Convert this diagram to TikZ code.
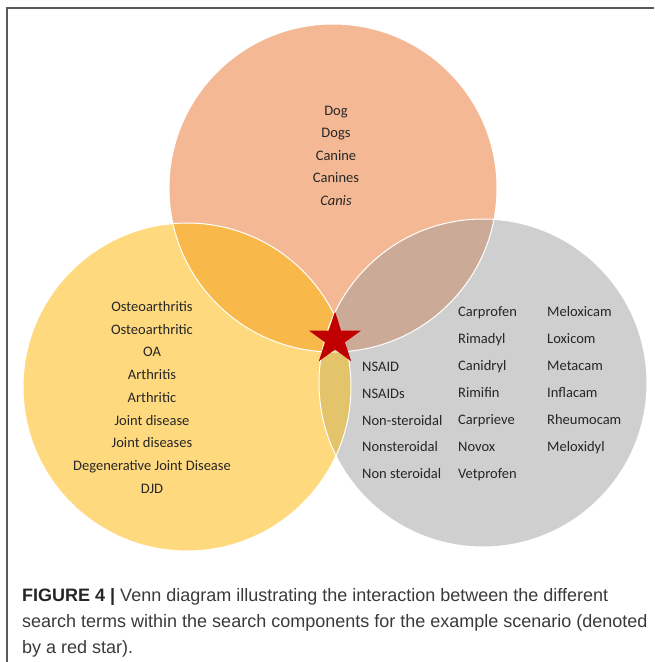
\documentclass[tikz,border=0pt]{standalone}
\usepackage{fontspec}
\setmainfont{Carlito}
\newfontfamily\capfont{Liberation Sans}
\usetikzlibrary{shapes.geometric}
\definecolor{corange}{HTML}{F4B994}
\definecolor{cyellow}{HTML}{FFD97E}
\definecolor{cgray}{HTML}{D0CFCF}
\definecolor{coy}{HTML}{F8B94A}
\definecolor{cog}{HTML}{CCAA98}
\definecolor{cyg}{HTML}{E3C46A}
\definecolor{coyg}{HTML}{DDAA62}
\definecolor{cstar}{HTML}{C00000}
\definecolor{ctext}{HTML}{262626}
\definecolor{ccap}{HTML}{3A3A3A}
\definecolor{cframe}{HTML}{5A5A5A}
\tikzset{
  term/.style={font=\fontsize{14.5}{16}\selectfont, text=ctext, inner sep=0pt, anchor=base},
  termL/.style={term, anchor=base west},
  capline/.style={font=\capfont\fontsize{18}{20}\selectfont, text=ccap, inner sep=0pt, anchor=base west},
  ring/.style={draw=white, line width=1pt}
}
\begin{document}
\begin{tikzpicture}[x=1pt,y=-1pt]
\useasboundingbox (0,0) rectangle (654,662);
% frame
\draw[cframe, line width=1.3pt] (7,662) -- (7,8) -- (654,8);
% circles
\def\rr{164}
\coordinate (co) at (333,188);
\coordinate (cy) at (187,387);
\coordinate (cg) at (483,383);
\fill[corange] (co) circle (\rr);
\fill[cyellow] (cy) circle (\rr);
\fill[cgray] (cg) circle (\rr);
\begin{scope}\clip (co) circle (\rr); \fill[coy] (cy) circle (\rr); \end{scope}
\begin{scope}\clip (co) circle (\rr); \fill[cog] (cg) circle (\rr); \end{scope}
\begin{scope}\clip (cy) circle (\rr); \fill[cyg] (cg) circle (\rr); \end{scope}
\begin{scope}\clip (cy) circle (\rr); \clip (co) circle (\rr); \fill[coyg] (cg) circle (\rr); \end{scope}
\draw[ring] (co) circle (\rr);
\draw[ring] (cy) circle (\rr);
\draw[ring] (cg) circle (\rr);
% star
\node[star, star points=5, star point ratio=2.618, minimum size=55pt, inner sep=0pt, fill=cstar, draw=none] (star) at (335,339) {};
% top terms
\node[term] (t1) at (336,115) {Dog};
\node[term] (t2) at (336,137) {Dogs};
\node[term] (t3) at (336,160) {Canine};
\node[term] (t4) at (336,182) {Canines};
\node[term] (t5) at (336,205) {\itshape Canis};
% left terms
\node[term] (l1) at (152,311) {Osteoarthritis};
\node[term] (l2) at (152,334) {Osteoarthritic};
\node[term] (l3) at (152,356) {OA};
\node[term] (l4) at (152,379) {Arthritis};
\node[term] (l5) at (152,402) {Arthritic};
\node[term] (l6) at (152,425) {Joint disease};
\node[term] (l7) at (152,447) {Joint diseases};
\node[term] (l8) at (152,470) {Degenerative Joint Disease};
\node[term] (l9) at (152,493) {DJD};
% right terms, column 1
\node[termL] (a1) at (362,371) {NSAID};
\node[termL] (a2) at (362,398) {NSAIDs};
\node[termL] (a3) at (362,425) {Non-steroidal};
\node[termL] (a4) at (362,451) {Nonsteroidal};
\node[termL] (a5) at (362,478) {Non steroidal};
% column 2
\node[termL] (b1) at (458,316) {Carprofen};
\node[termL] (b2) at (458,343) {Rimadyl};
\node[termL] (b3) at (458,370) {Canidryl};
\node[termL] (b4) at (458,397) {Rimifin};
\node[termL] (b5) at (458,424) {Carprieve};
\node[termL] (b6) at (458,451) {Novox};
\node[termL] (b7) at (458,478) {Vetprofen};
% column 3
\node[termL] (c1) at (547,316) {Meloxicam};
\node[termL] (c2) at (547,343) {Loxicom};
\node[termL] (c3) at (547,370) {Metacam};
\node[termL] (c4) at (547,397) {Inflacam};
\node[termL] (c5) at (547,424) {Rheumocam};
\node[termL] (c6) at (547,451) {Meloxidyl};
% caption
\node[capline] (cap1) at (22,601) {\textbf{\color{black!85}FIGURE 4 |} Venn diagram illustrating the interaction between the different};
\node[capline] (cap2) at (22,627) {search terms within the search components for the example scenario (denoted};
\node[capline] (cap3) at (22,653) {by a red star).};
\end{tikzpicture}
\end{document}
